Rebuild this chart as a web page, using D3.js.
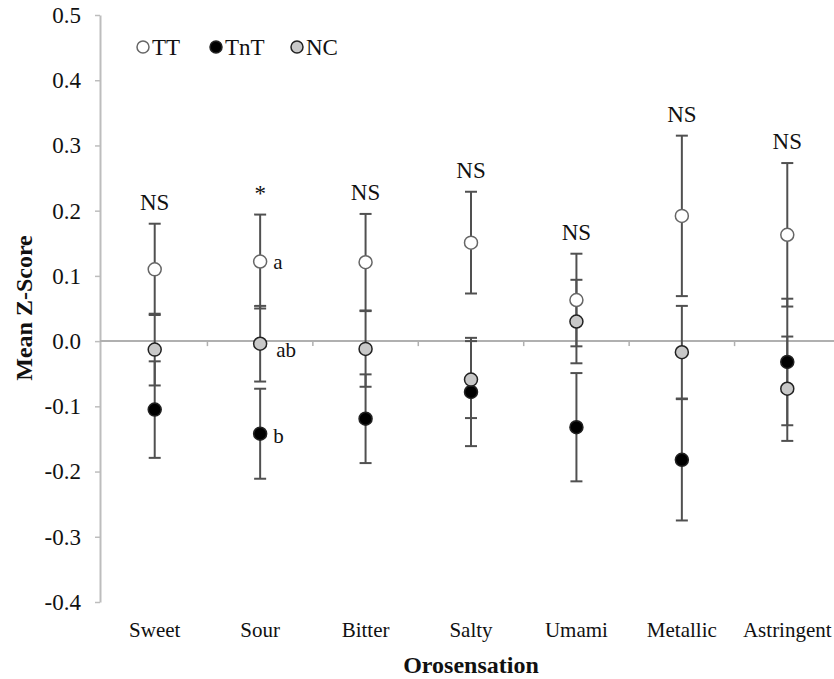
<!DOCTYPE html>
<html>
<head>
<meta charset="utf-8">
<script src="https://cdn.jsdelivr.net/npm/d3@7"></script>
<style>
  body { margin: 0; background: #fff; }
  text { font-family: "Liberation Serif", "Times New Roman", serif; fill: #111; }
</style>
</head>
<body>
<div class="chart"></div>
<script>
var width = 834
  , height = 679
  ;

var categories = ["Sweet", "Sour", "Bitter", "Salty", "Umami", "Metallic", "Astringent"];
var seriesNames = ["TT", "TnT", "NC"];

var ttMean  = [0.110, 0.122, 0.121, 0.151, 0.063, 0.192, 0.163];
var ttErr   = [0.070, 0.072, 0.074, 0.078, 0.071, 0.123, 0.110];
var tntMean = [-0.105, -0.142, -0.119, -0.078, -0.132, -0.182, -0.032];
var tntErr  = [0.074, 0.069, 0.068, 0.083, 0.083, 0.093, 0.097];
var ncMean  = [-0.013, -0.004, -0.012, -0.059, 0.030, -0.017, -0.073];
var ncErr   = [0.055, 0.058, 0.058, 0.059, 0.064, 0.071, 0.080];

var sigLabels = ["NS", "*", "NS", "NS", "NS", "NS", "NS"];
var yTicks = [-0.4, -0.3, -0.2, -0.1, 0.0, 0.1, 0.2, 0.3, 0.4, 0.5];

var fills = { TT: "#ffffff", TnT: "#000000", NC: "#c8c8c8" };

var svg = d3.select(".chart").append("svg")
  .attr("width", width)
  .attr("height", height);

var x = d3.scaleBand()
  .domain(categories)
  .range([102, 840]);

var y = d3.scaleLinear()
  .domain([-0.4, 0.5])
  .range([602, 15]);

// y axis
var yAxis = svg.append("g")
  .attr("transform", "translate(100,0)")
  .call(d3.axisLeft(y).tickValues(yTicks)
    .tickFormat(function(d) { return d.toFixed(1); })
    .tickSize(5).tickSizeOuter(0));
yAxis.select(".domain").attr("stroke", "#bdbdbd").attr("stroke-width", 2);
yAxis.selectAll(".tick line").attr("stroke", "#bdbdbd").attr("stroke-width", 1.5);
yAxis.selectAll(".tick text")
  .attr("x", -19)
  .style("font-family", "'Liberation Serif', serif")
  .style("font-size", "23px")
  .attr("fill", "#111");

// zero line with category ticks
var xAxis = svg.append("g")
  .attr("transform", "translate(0," + y(0) + ")");
xAxis.append("line")
  .attr("x1", 100).attr("x2", width)
  .attr("stroke", "#b0b0b0").attr("stroke-width", 2);
xAxis.selectAll(".cat-tick")
  .data(categories.slice(1))
  .enter().append("line")
  .attr("class", "cat-tick")
  .attr("x1", function(d) { return x(d); })
  .attr("x2", function(d) { return x(d); })
  .attr("y1", 0).attr("y2", 5)
  .attr("stroke", "#b0b0b0").attr("stroke-width", 1.5);

// category labels
svg.selectAll(".cat-label")
  .data(categories)
  .enter().append("text")
  .attr("class", "cat-label")
  .attr("x", function(d) { return x(d) + x.bandwidth() / 2; })
  .attr("y", 637)
  .attr("text-anchor", "middle")
  .style("font-size", "21px")
  .text(function(d) { return d; });

// axis titles
svg.append("text")
  .attr("x", 471).attr("y", 673)
  .attr("text-anchor", "middle")
  .style("font-size", "24px")
  .style("font-weight", "bold")
  .text("Orosensation");

svg.append("text")
  .attr("transform", "translate(32,308)rotate(-90)")
  .attr("text-anchor", "middle")
  .style("font-size", "24px")
  .style("font-weight", "bold")
  .text("Mean Z-Score");

// points
var points = [];
var means = { TT: ttMean, TnT: tntMean, NC: ncMean };
var errs = { TT: ttErr, TnT: tntErr, NC: ncErr };
seriesNames.forEach(function(s) {
  categories.forEach(function(c, i) {
    points.push({ series: s, cat: c, mean: means[s][i], err: errs[s][i] });
  });
});

function cx(d) { return x(d.cat) + x.bandwidth() / 2; }

var bars = svg.append("g").selectAll("g")
  .data(points)
  .enter().append("g")
  .attr("stroke", "#505050")
  .attr("stroke-width", 2);

bars.append("line")
  .attr("x1", cx).attr("x2", cx)
  .attr("y1", function(d) { return y(d.mean + d.err); })
  .attr("y2", function(d) { return y(d.mean - d.err); });
bars.append("line")
  .attr("x1", function(d) { return cx(d) - 6; })
  .attr("x2", function(d) { return cx(d) + 6; })
  .attr("y1", function(d) { return y(d.mean + d.err); })
  .attr("y2", function(d) { return y(d.mean + d.err); });
bars.append("line")
  .attr("x1", function(d) { return cx(d) - 6; })
  .attr("x2", function(d) { return cx(d) + 6; })
  .attr("y1", function(d) { return y(d.mean - d.err); })
  .attr("y2", function(d) { return y(d.mean - d.err); });

svg.append("g").selectAll("circle")
  .data(points)
  .enter().append("circle")
  .attr("cx", cx)
  .attr("cy", function(d) { return y(d.mean); })
  .attr("r", 6.5)
  .attr("fill", function(d) { return fills[d.series]; })
  .attr("stroke", function(d) { return d.series === "TT" ? "#666" : "#222"; })
  .attr("stroke-width", 1.5);

// significance labels above the highest bar
svg.selectAll(".sig")
  .data(categories)
  .enter().append("text")
  .attr("class", "sig")
  .attr("x", function(d) { return x(d) + x.bandwidth() / 2; })
  .attr("y", function(d, i) {
    var top = d3.max([ttMean[i] + ttErr[i], tntMean[i] + tntErr[i], ncMean[i] + ncErr[i]]);
    return y(top) - 14;
  })
  .attr("text-anchor", "middle")
  .style("font-size", "23px")
  .text(function(d, i) { return sigLabels[i]; });

// letters for Sour
var sourX = x("Sour") + x.bandwidth() / 2;
svg.append("text").attr("x", sourX + 13).attr("y", y(ttMean[1]) + 7).style("font-size", "21px").text("a");
svg.append("text").attr("x", sourX + 16).attr("y", y(ncMean[1]) + 13).style("font-size", "21px").text("ab");
svg.append("text").attr("x", sourX + 13).attr("y", y(tntMean[1]) + 9).style("font-size", "21px").text("b");

// legend
var legend = svg.append("g").selectAll("g")
  .data(seriesNames)
  .enter().append("g")
  .attr("transform", function(d, i) { return "translate(" + [143, 216, 297][i] + ",47)"; });
legend.append("circle")
  .attr("r", 6)
  .attr("fill", function(d) { return fills[d]; })
  .attr("stroke", function(d) { return d === "TT" ? "#666" : "#222"; })
  .attr("stroke-width", 1.5);
legend.append("text")
  .attr("x", 9).attr("y", 8)
  .style("font-size", "23px")
  .text(function(d) { return d; });
</script>
</body>
</html>
